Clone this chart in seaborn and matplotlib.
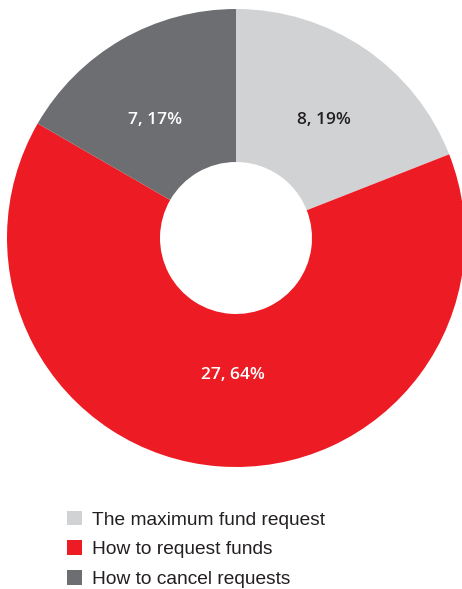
import matplotlib
matplotlib.use("Agg")
import matplotlib.pyplot as plt
import seaborn as sns

categories = ["The maximum fund request", "How to request funds", "How to cancel requests"]
counts = [8, 27, 7]
slice_labels = ["8, 19%", "27, 64%", "7, 17%"]
colors = ["#D1D2D4", "#ED1C24", "#6D6E71"]
label_colors = ["#231F20", "white", "white"]

sns.set_theme(style="white")
plt.rcParams["font.family"] = ["Liberation Sans", "DejaVu Sans"]

W, H = 462, 589
fig = plt.figure(figsize=(W / 100, H / 100), dpi=100)
fig.patch.set_facecolor("white")

# square axes holding the donut
cx, cy, r = 236, 238, 229
ax = fig.add_axes([(cx - r) / W, (H - cy - r) / H, 2 * r / W, 2 * r / H])

hole = 76 / r
wedges, _ = ax.pie(counts, colors=colors, startangle=90, counterclock=False,
                   radius=1.0, wedgeprops=dict(width=1 - hole, linewidth=0))
for w in wedges:
    w.set_clip_on(False)
ax.set_xlim(-1, 1)
ax.set_ylim(-1, 1)
ax.set_aspect("equal")
ax.axis("off")

# value labels inside each ring segment
label_pos = [(0.385, 0.515), (-0.013, -0.60), (-0.354, 0.515)]
for (x, y), txt, c in zip(label_pos, slice_labels, label_colors):
    ax.text(x, y, txt, ha="center", va="center", color=c,
            fontsize=12.5, fontweight="semibold", family=["Open Sans", "DejaVu Sans"])

leg = fig.legend(wedges, categories, loc="upper left",
                 bbox_to_anchor=(59 / W, 1 - 503 / H),
                 frameon=False, fontsize=13.75, handlelength=0.8, handleheight=0.8,
                 handletextpad=0.55, labelspacing=0.62, borderaxespad=0)
for t in leg.get_texts():
    t.set_color("#231F20")

fig.savefig("out.png", dpi=100, facecolor="white")
